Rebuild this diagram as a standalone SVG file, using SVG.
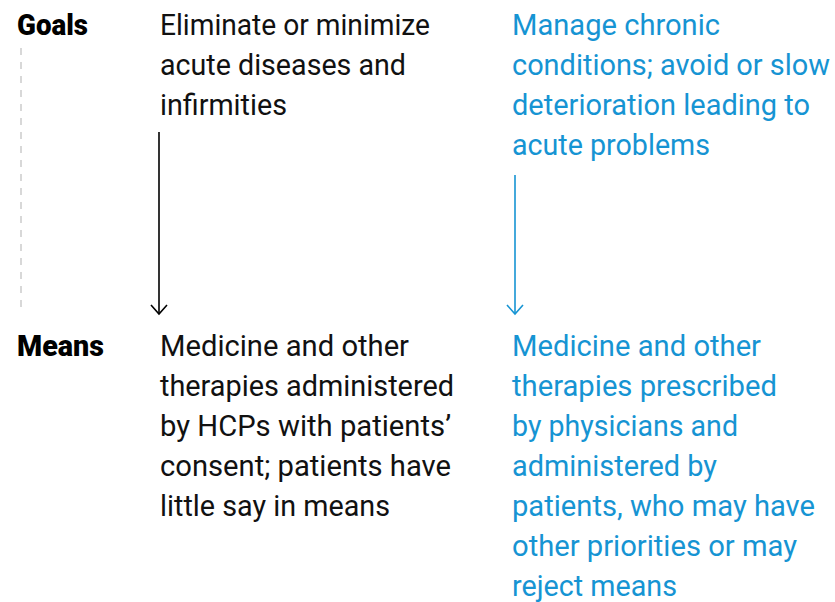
<svg xmlns="http://www.w3.org/2000/svg" width="835" height="602" viewBox="0 0 835 602">
<style>
text{font-family:Roboto,"Liberation Sans",sans-serif;font-size:30px}
.h{font-weight:900;fill:#000}
.k{fill:#111}
.b{fill:#1694d3}
</style>
<rect width="835" height="602" fill="#fff"/>
<g id="labels">
<text class="h" x="17" y="35" textLength="71" lengthAdjust="spacingAndGlyphs">Goals</text>
<text class="h" x="17" y="356" textLength="87" lengthAdjust="spacingAndGlyphs">Means</text>
</g>
<g id="goal-acute">
<text class="k" x="160" y="35" textLength="270" lengthAdjust="spacingAndGlyphs">Eliminate or minimize</text>
<text class="k" x="160" y="75" textLength="246" lengthAdjust="spacingAndGlyphs">acute diseases and</text>
<text class="k" x="160" y="115" textLength="127" lengthAdjust="spacingAndGlyphs">infirmities</text>
</g>
<g id="goal-chronic">
<text class="b" x="512" y="35" textLength="208" lengthAdjust="spacingAndGlyphs">Manage chronic</text>
<text class="b" x="512" y="75" textLength="318" lengthAdjust="spacingAndGlyphs">conditions; avoid or slow</text>
<text class="b" x="512" y="115" textLength="298" lengthAdjust="spacingAndGlyphs">deterioration leading to</text>
<text class="b" x="512" y="155" textLength="198" lengthAdjust="spacingAndGlyphs">acute problems</text>
</g>
<g id="means-acute">
<text class="k" x="160" y="356" textLength="249" lengthAdjust="spacingAndGlyphs">Medicine and other</text>
<text class="k" x="160" y="396" textLength="294" lengthAdjust="spacingAndGlyphs">therapies administered</text>
<text class="k" x="160" y="436" textLength="291" lengthAdjust="spacingAndGlyphs">by HCPs with patients’</text>
<text class="k" x="160" y="476" textLength="291" lengthAdjust="spacingAndGlyphs">consent; patients have</text>
<text class="k" x="160" y="516" textLength="230" lengthAdjust="spacingAndGlyphs">little say in means</text>
</g>
<g id="means-chronic">
<text class="b" x="512" y="356" textLength="249" lengthAdjust="spacingAndGlyphs">Medicine and other</text>
<text class="b" x="512" y="396" textLength="265" lengthAdjust="spacingAndGlyphs">therapies prescribed</text>
<text class="b" x="512" y="436" textLength="226" lengthAdjust="spacingAndGlyphs">by physicians and</text>
<text class="b" x="512" y="476" textLength="205" lengthAdjust="spacingAndGlyphs">administered by</text>
<text class="b" x="512" y="516" textLength="303" lengthAdjust="spacingAndGlyphs">patients, who may have</text>
<text class="b" x="512" y="556" textLength="285" lengthAdjust="spacingAndGlyphs">other priorities or may</text>
<text class="b" x="512" y="596" textLength="165" lengthAdjust="spacingAndGlyphs">reject means</text>
</g>
<g id="connectors" fill="none">
<line x1="21" y1="48" x2="21" y2="314" stroke="#cccccc" stroke-width="1.5" stroke-dasharray="7,7"/>
<path d="M159,132 V314" stroke="#000" stroke-width="1.6"/>
<path d="M151,305 L159,314 L167,305" stroke="#000" stroke-width="1.6"/>
<path d="M515,175 V314" stroke="#1694d3" stroke-width="1.6"/>
<path d="M507,305 L515,314 L523,305" stroke="#1694d3" stroke-width="1.6"/>
</g>
</svg>
